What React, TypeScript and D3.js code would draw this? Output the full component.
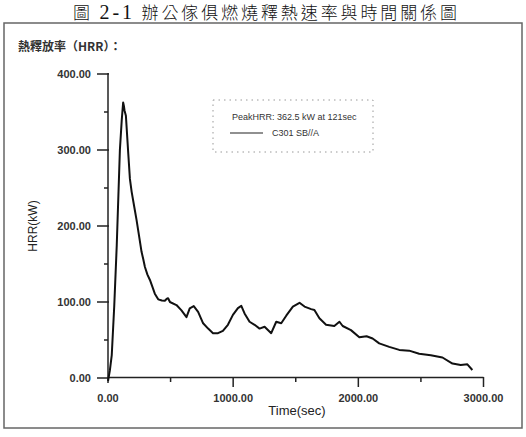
import React, { useEffect, useRef } from "react";
import * as d3 from "d3";

// time (sec) and heat release rate (kW)
const timeSec = [
  0, 15, 30, 50, 70, 95, 110, 121, 127, 132, 143, 162, 175, 189, 210, 228, 250,
  268, 281, 295, 315, 335, 355, 374, 401, 430, 454, 468, 480, 495, 507, 547,
  587, 627, 653, 685, 720, 760, 800, 839, 879, 918, 958, 998, 1038, 1065, 1091,
  1131, 1171, 1211, 1251, 1304, 1344, 1384, 1424, 1477, 1530, 1570, 1623,
  1649, 1689, 1742, 1808, 1849, 1875, 1941, 2008, 2066, 2114, 2167, 2247,
  2327, 2406, 2486, 2579, 2672, 2752, 2818, 2871, 2911,
];
const hrrKW = [
  -4, 10, 30, 95, 175, 300, 340, 362.5, 358, 352, 345, 295, 262, 245, 225, 208,
  185, 166, 157, 146, 136, 129, 120, 111, 103.5, 102, 101.7, 104, 105, 100, 99,
  96, 89, 80, 91.7, 94.7, 87, 72, 65, 59, 59, 62, 70, 83, 92, 95, 85, 74, 70,
  65, 67.5, 59, 74, 72, 82, 94, 99, 94, 90.6, 89.5, 78.5, 70, 68.4, 74, 68.4,
  63, 53.5, 55, 52, 45.6, 41, 37, 36, 32, 30, 27, 19, 17, 18, 10.5,
];

const yMajor = [0, 100, 200, 300, 400];
const yMinor = [50, 150, 250, 350];
const xMajor = [0, 1000, 2000, 3000];
const xMinor = [500, 1500, 2500];

const chartTitle = "辦公傢俱燃燒釋熱速率與時間關係圖";
const subTitle = "熱釋放率（HRR）：";
const peakNote = "PeakHRR: 362.5 kW at 121sec";
const seriesName = "C301 SB//A";

const App = () => {
  const svgRef = useRef(null);

  useEffect(() => {
    const w = 526;
    const h = 437;
    const svg = d3.select(svgRef.current).attr("width", w).attr("height", h);
    svg.selectAll("*").remove();
    svg.append("rect").attr("width", w).attr("height", h).attr("fill", "#fff");

    const xScale = d3.scaleLinear().domain([0, 3000]).range([108, 483.5]);
    const yScale = d3.scaleLinear().domain([0, 400]).range([378, 74]);

    // title
    const title = svg
      .append("text")
      .attr("x", 73)
      .attr("y", 19)
      .attr("textLength", 384)
      .attr("lengthAdjust", "spacing")
      .style("font-family", "'Noto Sans CJK TC', sans-serif")
      .style("font-weight", 300)
      .style("font-size", "17px")
      .style("fill", "#111");
    title.append("tspan").text("圖 ");
    title
      .append("tspan")
      .style("font-family", "'Liberation Serif', serif")
      .style("font-size", "20px")
      .text("2-1");
    title.append("tspan").text(" " + chartTitle);

    // frame
    svg
      .append("rect")
      .attr("x", 4)
      .attr("y", 23)
      .attr("width", 518)
      .attr("height", 405)
      .attr("fill", "none")
      .attr("stroke", "#666")
      .attr("stroke-width", 1.5);

    svg
      .append("text")
      .attr("x", 18)
      .attr("y", 51)
      .style("font-family", "'Noto Sans CJK TC', sans-serif")
      .style("font-weight", "bold")
      .style("font-size", "12px")
      .style("fill", "#333")
      .text(subTitle);

    const axisFont = "'Liberation Sans', Arial, sans-serif";
    const fmt = d3.format(".2f");

    // y axis
    const gy = svg.append("g").attr("stroke", "#222").attr("stroke-width", 1.5);
    gy.append("line").attr("x1", 108).attr("x2", 108).attr("y1", yScale(400) - 1).attr("y2", 383);
    gy.selectAll(".maj")
      .data(yMajor)
      .join("line")
      .attr("x1", 97)
      .attr("x2", 109)
      .attr("y1", (d) => yScale(d))
      .attr("y2", (d) => yScale(d));
    gy.selectAll(".min")
      .data(yMinor)
      .join("line")
      .attr("class", "min")
      .attr("x1", 104)
      .attr("x2", 108)
      .attr("y1", (d) => yScale(d))
      .attr("y2", (d) => yScale(d));

    svg
      .selectAll(".ylab")
      .data(yMajor)
      .join("text")
      .attr("class", "ylab")
      .attr("x", 91)
      .attr("y", (d) => yScale(d))
      .attr("dy", "0.35em")
      .style("text-anchor", "end")
      .style("font-family", axisFont)
      .style("font-weight", "bold")
      .style("font-size", "11px")
      .style("fill", "#333")
      .text((d) => fmt(d));

    // x axis
    const gx = svg.append("g").attr("stroke", "#222").attr("stroke-width", 1.5);
    gx.append("line").attr("x1", 108).attr("x2", xScale(3000)).attr("y1", 377.5).attr("y2", 377.5);
    gx.selectAll(".maj")
      .data(xMajor.filter((d) => d > 0))
      .join("line")
      .attr("x1", (d) => xScale(d))
      .attr("x2", (d) => xScale(d))
      .attr("y1", 377)
      .attr("y2", 387);
    gx.selectAll(".min")
      .data(xMinor)
      .join("line")
      .attr("class", "min")
      .attr("x1", (d) => xScale(d))
      .attr("x2", (d) => xScale(d))
      .attr("y1", 378)
      .attr("y2", 382);

    svg
      .selectAll(".xlab")
      .data(xMajor)
      .join("text")
      .attr("class", "xlab")
      .attr("x", (d) => xScale(d))
      .attr("y", 398)
      .attr("dy", "0.35em")
      .style("text-anchor", "middle")
      .style("font-family", axisFont)
      .style("font-weight", "bold")
      .style("font-size", "11px")
      .style("fill", "#333")
      .text((d) => fmt(d));

    svg
      .append("text")
      .attr("x", 297)
      .attr("y", 410)
      .attr("dy", "0.35em")
      .style("text-anchor", "middle")
      .style("font-family", axisFont)
      .style("font-size", "13px")
      .style("fill", "#222")
      .text("Time(sec)");

    svg
      .append("text")
      .attr("transform", "translate(33,226) rotate(-90)")
      .attr("dy", "0.35em")
      .style("text-anchor", "middle")
      .style("font-family", axisFont)
      .style("font-size", "12px")
      .style("fill", "#222")
      .text("HRR(kW)");

    // legend box
    svg
      .append("rect")
      .attr("x", 213)
      .attr("y", 100)
      .attr("width", 160)
      .attr("height", 52)
      .attr("fill", "none")
      .attr("stroke", "#999")
      .attr("stroke-width", 1)
      .attr("stroke-dasharray", "1.5,4");
    svg
      .append("text")
      .attr("x", 232)
      .attr("y", 117)
      .attr("dy", "0.35em")
      .style("font-family", axisFont)
      .style("font-size", "9px")
      .style("fill", "#333")
      .text(peakNote);
    svg
      .append("line")
      .attr("x1", 230)
      .attr("x2", 263)
      .attr("y1", 133)
      .attr("y2", 133)
      .attr("stroke", "#222")
      .attr("stroke-width", 1.2);
    svg
      .append("text")
      .attr("x", 272)
      .attr("y", 133)
      .attr("dy", "0.35em")
      .style("font-family", axisFont)
      .style("font-size", "9px")
      .style("fill", "#333")
      .text(seriesName);

    // curve
    const line = d3
      .line()
      .x((d) => xScale(d[0]))
      .y((d) => yScale(d[1]));
    const pts = timeSec.map((t, i) => [t, hrrKW[i]]);
    svg
      .append("path")
      .datum(pts)
      .attr("d", line)
      .attr("fill", "none")
      .attr("stroke", "#111")
      .attr("stroke-width", 2)
      .attr("stroke-linejoin", "round");
  }, []);

  return (
    <svg
      ref={svgRef}
      style={{ position: "absolute", left: 0, top: 0, display: "block" }}
    ></svg>
  );
};

export default App;
